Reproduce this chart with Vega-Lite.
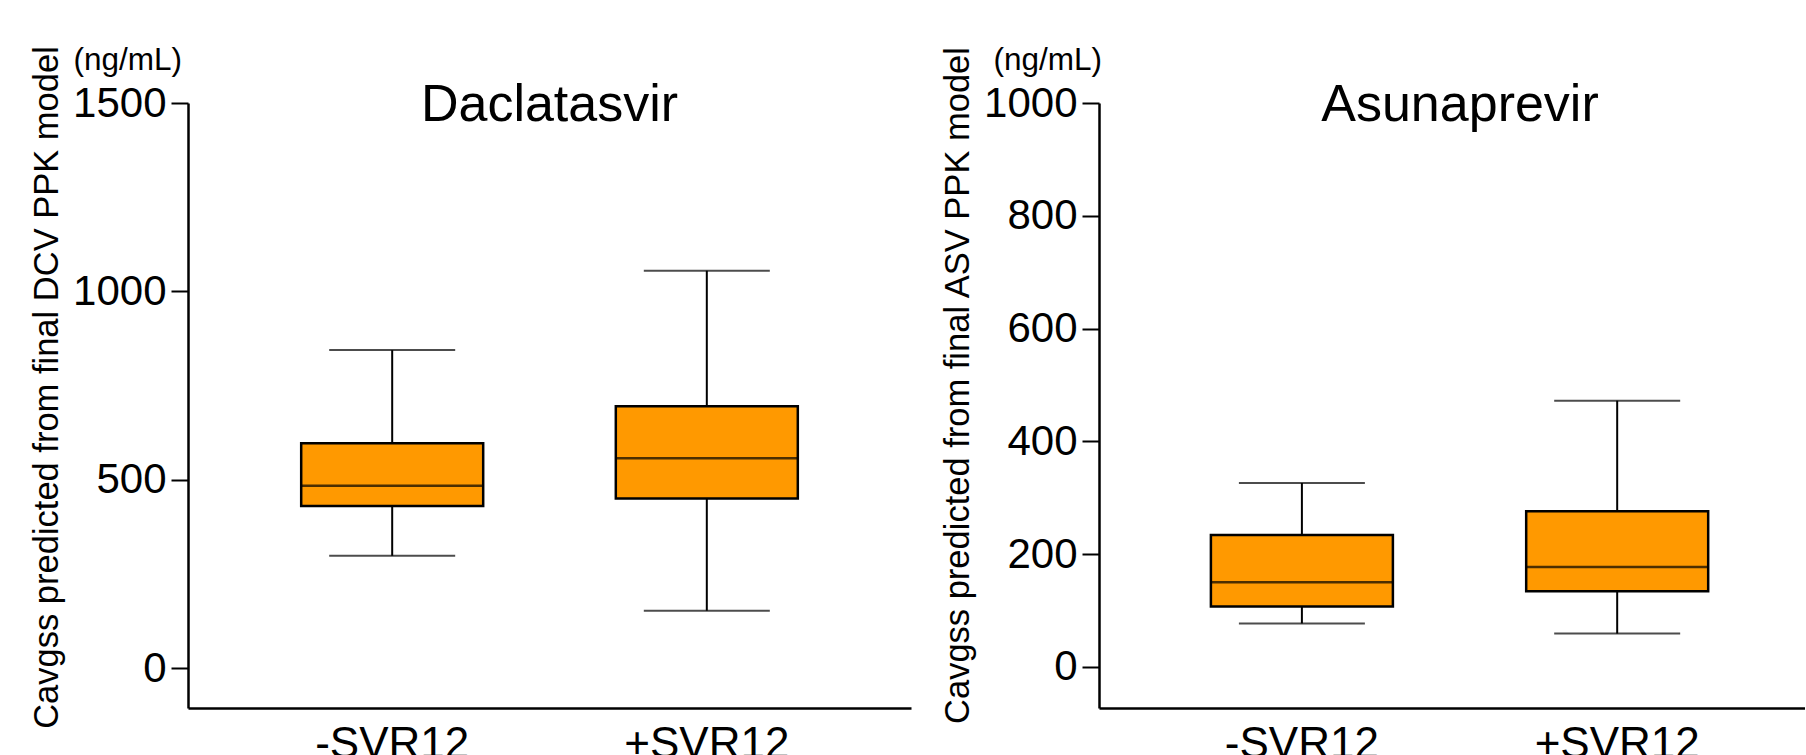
{
  "$schema": "https://vega.github.io/schema/vega-lite/v6.json",
  "background": "white",
  "padding": {"left": 28, "top": 44, "right": 0, "bottom": 0},
  "bounds": "flush",
  "spacing": 188,
  "config": {
    "font": "Liberation Sans",
    "view": {"stroke": null},
    "axis": {"grid": false, "domainColor": "black", "tickColor": "black", "labelColor": "black", "titleColor": "black", "labelFont": "Liberation Sans", "titleFont": "Liberation Sans", "titleFontWeight": "normal"},
    "title": {"font": "Liberation Sans", "fontWeight": "normal", "color": "black"}
  },
  "hconcat": [
    {
      "title": {"text": "Daclatasvir", "fontSize": 52, "anchor": "middle", "frame": "group", "baseline": "alphabetic", "offset": 0, "dy": 129},
      "width": 723,
      "height": 605,
      "data": {"values": [
        {"group": "-SVR12", "min": 298, "q1": 430, "median": 484, "q3": 597, "max": 844},
        {"group": "+SVR12", "min": 152, "q1": 450, "median": 557, "q3": 695, "max": 1055}
      ]},
      "resolve": {"axis": {"y": "independent"}},
      "encoding": {
        "x": {"field": "group", "type": "nominal", "sort": ["-SVR12", "+SVR12"],
          "scale": {"paddingInner": 0, "paddingOuter": 0.149},
          "axis": {"title": null, "labelFontSize": 44, "ticks": false, "labelPadding": 14, "domainWidth": 2.5, "labelAngle": 0}}
      },
      "layer": [
        {"mark": {"type": "rule", "color": "black", "strokeWidth": 2},
         "encoding": {
           "y": {"field": "min", "type": "quantitative", "scale": {"domain": [-106, 1500], "nice": false, "zero": false},
             "axis": {"orient": "left", "values": [0, 500, 1000, 1500], "format": "d", "labelFontSize": 42, "tickSize": 17, "tickWidth": 2, "domainWidth": 2.5, "labelPadding": 5,
               "title": "Cavgss predicted from final DCV PPK model", "titleFontSize": 34.5, "titleAngle": -90, "titleX": -124, "titleY": 284, "titleAlign": "center", "titleBaseline": "bottom"}},
           "y2": {"field": "max"}}},
        {"mark": {"type": "bar", "fill": "#FF9900", "stroke": "black", "strokeWidth": 2.5, "width": 182},
         "encoding": {
           "y": {"field": "q1", "type": "quantitative",
             "axis": {"orient": "left", "domain": false, "ticks": false, "labels": false, "title": "(ng/mL)", "titleAngle": 0, "titleFontSize": 31.5, "titleX": -115, "titleY": -34, "titleAlign": "left", "titleBaseline": "alphabetic"}},
           "y2": {"field": "q3"}}},
        {"mark": {"type": "tick", "color": "black", "size": 182, "thickness": 2.5},
         "encoding": {"y": {"field": "median", "type": "quantitative", "axis": null}}},
        {"mark": {"type": "tick", "color": "black", "size": 126, "thickness": 2},
         "encoding": {"y": {"field": "min", "type": "quantitative", "axis": null}}},
        {"mark": {"type": "tick", "color": "black", "size": 126, "thickness": 2},
         "encoding": {"y": {"field": "max", "type": "quantitative", "axis": null}}}
      ]
    },
    {
      "title": {"text": "Asunaprevir", "fontSize": 52, "anchor": "middle", "frame": "group", "baseline": "alphabetic", "offset": 0, "dy": 129, "dx": 8},
      "width": 706,
      "height": 605,
      "data": {"values": [
        {"group": "-SVR12", "min": 77, "q1": 107, "median": 150, "q3": 234, "max": 326},
        {"group": "+SVR12", "min": 59, "q1": 134, "median": 177, "q3": 276, "max": 472}
      ]},
      "resolve": {"axis": {"y": "independent"}},
      "encoding": {
        "x": {"field": "group", "type": "nominal", "sort": ["-SVR12", "+SVR12"],
          "scale": {"paddingInner": 0, "paddingOuter": 0.1196, "align": 0.6},
          "axis": {"title": null, "labelFontSize": 44, "ticks": false, "labelPadding": 14, "domainWidth": 2.5, "labelAngle": 0}}
      },
      "layer": [
        {"mark": {"type": "rule", "color": "black", "strokeWidth": 2},
         "encoding": {
           "y": {"field": "min", "type": "quantitative", "scale": {"domain": [-73, 1000], "nice": false, "zero": false},
             "axis": {"orient": "left", "values": [0, 200, 400, 600, 800, 1000], "format": "d", "labelFontSize": 42, "tickSize": 17, "tickWidth": 2, "domainWidth": 2.5, "labelPadding": 5,
               "title": "Cavgss predicted from final ASV PPK model", "titleFontSize": 34.5, "titleAngle": -90, "titleX": -124, "titleY": 282, "titleAlign": "center", "titleBaseline": "bottom"}},
           "y2": {"field": "max"}}},
        {"mark": {"type": "bar", "fill": "#FF9900", "stroke": "black", "strokeWidth": 2.5, "width": 182},
         "encoding": {
           "y": {"field": "q1", "type": "quantitative",
             "axis": {"orient": "left", "domain": false, "ticks": false, "labels": false, "title": "(ng/mL)", "titleAngle": 0, "titleFontSize": 31.5, "titleX": -106, "titleY": -34, "titleAlign": "left", "titleBaseline": "alphabetic"}},
           "y2": {"field": "q3"}}},
        {"mark": {"type": "tick", "color": "black", "size": 182, "thickness": 2.5},
         "encoding": {"y": {"field": "median", "type": "quantitative", "axis": null}}},
        {"mark": {"type": "tick", "color": "black", "size": 126, "thickness": 2},
         "encoding": {"y": {"field": "min", "type": "quantitative", "axis": null}}},
        {"mark": {"type": "tick", "color": "black", "size": 126, "thickness": 2},
         "encoding": {"y": {"field": "max", "type": "quantitative", "axis": null}}}
      ]
    }
  ]
}
